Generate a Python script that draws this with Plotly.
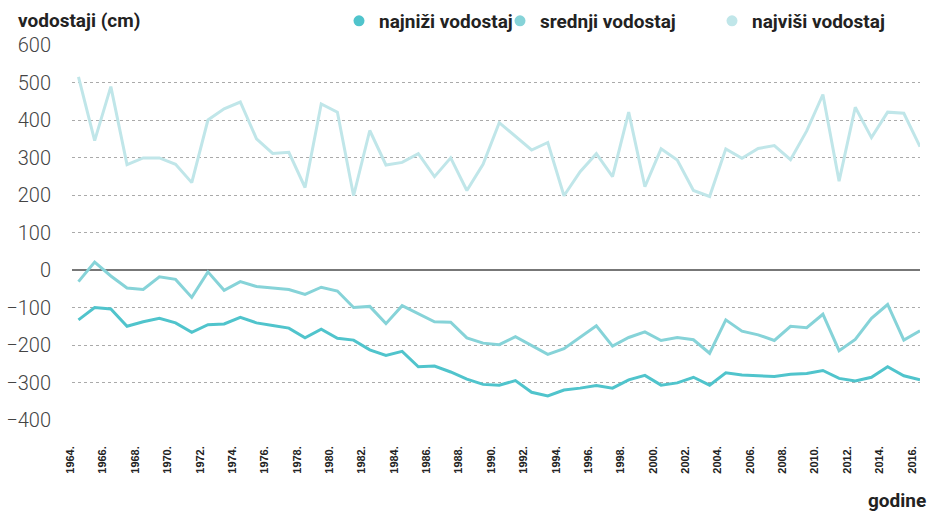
import plotly.graph_objects as go

years = list(range(1964, 2017))

najnizi = [-133, -100, -104, -150, -138, -129, -141, -166, -146, -144,
           -126, -141, -148, -155, -181, -158, -182, -187, -213, -228,
           -217, -258, -256, -272, -291, -305, -307, -295, -326, -336,
           -320, -315, -308, -315, -293, -281, -307, -301, -286, -307,
           -274, -280, -282, -284, -278, -276, -268, -289, -296, -286,
           -258, -282, -293]

srednji = [-31, 21, -16, -48, -52, -18, -25, -73, -5, -54,
           -31, -44, -48, -52, -65, -46, -56, -100, -97, -143,
           -95, -116, -138, -139, -181, -195, -199, -178, -202, -225,
           -210, -180, -149, -203, -180, -165, -188, -180, -186, -222,
           -133, -163, -173, -188, -150, -154, -118, -215, -185, -129,
           -92, -187, -162]

najvisi = [515, 345, 489, 281, 299, 299, 282, 233, 400, 430,
           448, 350, 311, 314, 220, 443, 421, 198, 372, 280,
           287, 310, 249, 299, 212, 282, 393, 357, 320, 340,
           198, 262, 310, 249, 421, 222, 323, 293, 212, 196,
           323, 298, 324, 332, 294, 371, 468, 237, 434, 353,
           421, 418, 329]

series_names = ["najniži vodostaj", "srednji vodostaj", "najviši vodostaj"]
colors = ["#50c4cc", "#86d3d8", "#c0e6e9"]
tick_years = list(range(1964, 2017, 2))
tick_text = [f"{y}." for y in tick_years]
y_ticks = [-400, -300, -200, -100, 0, 100, 200, 300, 400, 500, 600]

W, H = 931, 513
ML, MR, MT, MB = 72, 11, 45, 93

fig = go.Figure()
for name, vals, col in [(series_names[2], najvisi, colors[2]),
                        (series_names[1], srednji, colors[1]),
                        (series_names[0], najnizi, colors[0])]:
    fig.add_trace(go.Scatter(x=years, y=vals, mode="lines", name=name,
                             line=dict(color=col, width=3), showlegend=False))

# legend entries (circle markers), each in its own legend for exact placement
legend_ids = ["legend", "legend2", "legend3"]
circle_x = [365, 526, 738]
for name, col, lid in zip(series_names, colors, legend_ids):
    fig.add_trace(go.Scatter(x=[None], y=[None], mode="markers", name=name,
                             marker=dict(color=col, size=11, symbol="circle"),
                             showlegend=True, legend=lid))

bold19 = dict(family="Roboto", size=19, color="#222222", weight="bold")
leg_common = dict(orientation="h", xref="container", yref="container",
                  xanchor="left", yanchor="middle", bgcolor="rgba(0,0,0,0)",
                  font=bold19, itemwidth=30)
fig.update_layout(
    legend=dict(x=(circle_x[0] - 26) / W, y=1 - 21 / H, **leg_common),
    legend2=dict(x=(circle_x[1] - 26) / W, y=1 - 21 / H, **leg_common),
    legend3=dict(x=(circle_x[2] - 26) / W, y=1 - 21 / H, **leg_common),
)

pw = W - ML - MR
ph = H - MT - MB
fig.update_layout(
    width=W, height=H,
    margin=dict(l=ML, r=MR, t=MT, b=MB, autoexpand=False),
    paper_bgcolor="white", plot_bgcolor="white",
    title=dict(text="vodostaji (cm)", x=18 / W, xref="container", xanchor="left",
               y=1 - 20 / H, yref="container", yanchor="middle", font=bold19),
    xaxis=dict(range=[1963.6, 2016], tickmode="array", tickvals=tick_years,
               ticktext=tick_text, tickangle=-90, showgrid=False, zeroline=False,
               showline=False, ticks="", ticklabelstandoff=23, ticklabelshift=-8,
               automargin=False,
               tickfont=dict(family="Liberation Sans", size=11, color="#222222",
                             weight="bold")),
    yaxis=dict(range=[-400, 600], tickmode="array", tickvals=y_ticks,
               showgrid=True, gridcolor="#aaaaaa", griddash="dot", gridwidth=1,
               zeroline=True, zerolinecolor="#777777", zerolinewidth=1.5,
               showline=False, ticks="", ticklabelstandoff=20, automargin=False,
               tickfont=dict(family="Roboto", size=20, color="#444444", weight=300)),
    annotations=[dict(text="godine", xref="paper", yref="paper",
                      x=(928 - ML) / pw, y=(H - MB - 500) / ph,
                      xanchor="right", yanchor="middle", showarrow=False,
                      font=bold19)],
)

fig.write_html("out.html", config={"displayModeBar": False},
               post_script="document.body.style.margin='0';")
